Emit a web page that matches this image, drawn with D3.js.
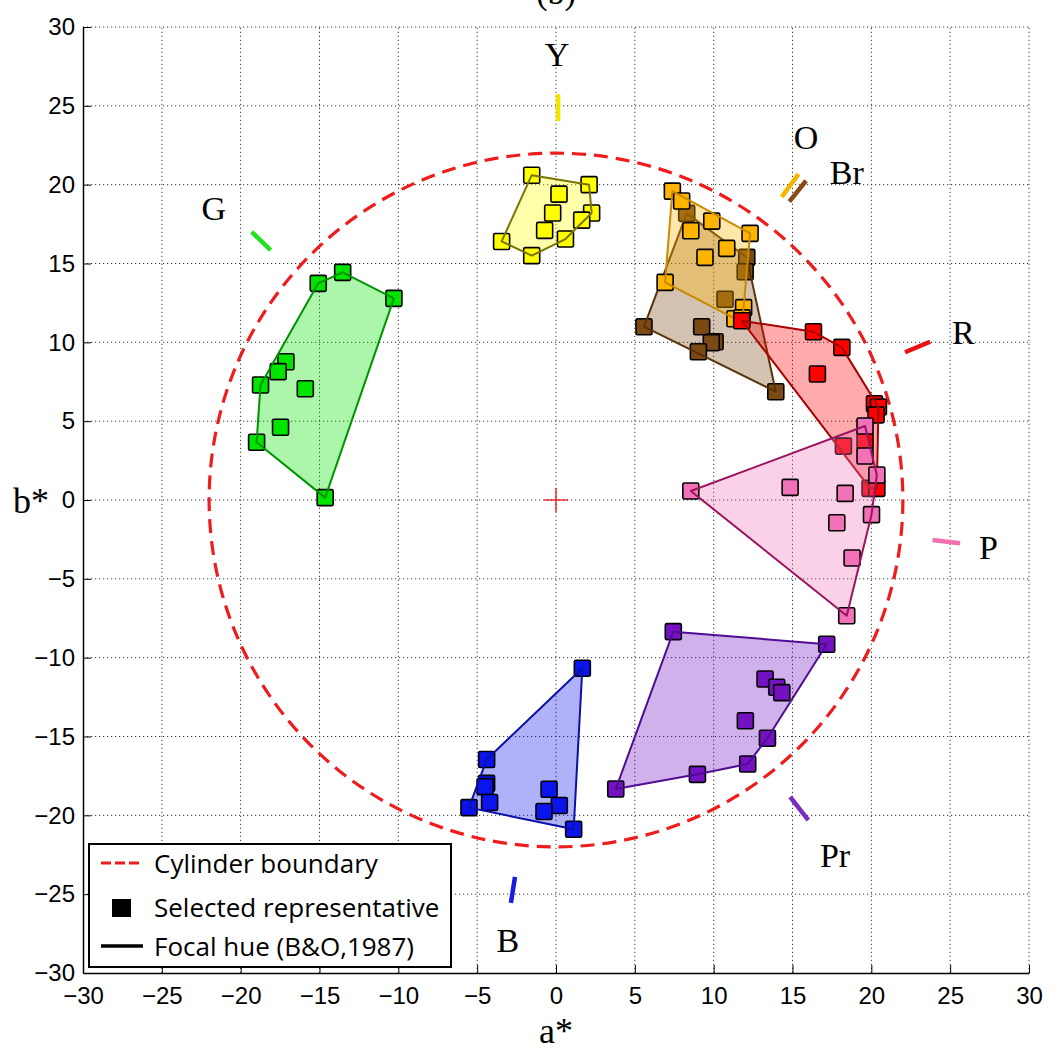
<!DOCTYPE html>
<html><head><meta charset="utf-8">
<script src="https://cdn.jsdelivr.net/npm/d3@7"></script>
<style>body{margin:0;background:#fff;} svg{display:block}</style>
</head><body>
<svg id="chart" width="1057" height="1063"></svg>
<script>
// ---------- data ----------
const tickValues = [-30,-25,-20,-15,-10,-5,0,5,10,15,20,25,30];
const boundaryRadius = 22;

const yellowPts = [[-1.54,20.6],[2.1,20.0],[0.19,19.4],[-0.21,18.2],[2.26,18.2],[1.63,17.75],[-0.72,17.1],[0.6,16.55],[-3.45,16.4],[-1.54,15.5]];
const greenPts = [[-13.53,14.44],[-15.08,13.74],[-10.28,12.79],[-17.13,8.77],[-17.62,8.14],[-18.74,7.29],[-15.9,7.06],[-17.47,4.61],[-18.99,3.66],[-14.64,0.15]];
const brownPts = [[8.29,18.18],[12.1,15.39],[12.0,14.48],[10.72,12.73],[5.58,10.99],[9.24,10.99],[10.09,10.04],[9.85,9.98],[9.03,9.4],[13.94,6.87]];
const orangePts = [[7.38,19.59],[7.97,18.96],[9.88,17.69],[12.31,16.91],[8.55,17.08],[10.83,15.96],[9.45,15.39],[6.92,13.8],[11.9,12.2],[11.35,11.5],[11.8,11.55]];
const redPts = [[11.78,11.37],[16.33,10.67],[18.13,9.68],[16.58,7.99],[20.2,6.1],[20.45,5.9],[20.3,5.4],[18.23,3.42],[19.6,3.76],[19.92,0.74],[20.35,0.74]];
const pinkPts = [[8.55,0.57],[14.85,0.8],[18.34,0.42],[17.81,-1.44],[20.01,-0.93],[18.78,-3.68],[18.44,-7.34],[19.6,4.69],[19.6,2.79],[20.35,1.59]];
const purplePts = [[7.44,-8.35],[17.17,-9.15],[13.26,-11.35],[14.0,-11.88],[14.32,-12.22],[12.01,-14.0],[13.41,-15.11],[12.16,-16.74],[8.97,-17.4],[3.79,-18.33]];
const bluePts = [[1.67,-10.67],[-4.4,-16.46],[-4.4,-17.97],[-4.5,-18.18],[-4.21,-19.19],[-5.52,-19.51],[-0.44,-18.35],[0.21,-19.38],[-0.76,-19.76],[1.12,-20.88]];

const clusterData = [yellowPts, greenPts, brownPts, orangePts, redPts, pinkPts, purplePts, bluePts];
const clusterColors = ["#ffff00","#00e400","#7b4a14","#ffb400","#ff0000","#f272b8","#7412c2","#0c14ee"];
const clusterEdge = ["#7a7400","#009400","#5a3208","#c98a00","#a80000","#9a1460","#500c92","#0a10a8"];

const focalNames = ["Y","O","Br","G","R","P","Pr","B"];
const focalColors = ["#f2e400","#f6b400","#8a4a14","#22e022","#ee1111","#f070b0","#7a2cc0","#1a1ae0"];
const focalSegments = [[0.13,24.03,0.13,25.74],[14.32,19.23,15.38,20.67],[14.8,18.92,15.86,20.25],[-18.1,15.85,-19.3,17.0],[22.14,9.37,23.73,10.04],[23.88,-2.54,25.63,-2.75],[14.85,-18.83,16.0,-20.3],[-2.6,-23.9,-2.86,-25.55]];
const focalLabelPos = [[0.06,28.3],[15.86,23.04],[18.44,20.82],[-21.7,18.5],[25.84,10.67],[27.43,-2.96],[17.7,-22.5],[-3.05,-27.9]];

const legendLabels = ["Cylinder boundary","Selected representative","Focal hue (B&O,1987)"];

// ---------- scales ----------
const svg = d3.select("#chart");
const x = d3.scaleLinear().domain([-30,30]).range([83,1029]);
const y = d3.scaleLinear().domain([-30,30]).range([973,27]);

// title (cut off at the top, as in the reference)
svg.append("text").attr("x", 556).attr("y", 4).attr("text-anchor","middle")
  .attr("font-family","Liberation Serif").attr("font-size",34).text("(b)");

// grid
const grid = svg.append("g").attr("stroke","#333").attr("stroke-width",1).attr("stroke-dasharray","1.2,2.8");
tickValues.filter(t => t > -30).forEach(t => {
  grid.append("line").attr("x1", x(t)).attr("x2", x(t)).attr("y1", y(-30)).attr("y2", y(30));
  grid.append("line").attr("y1", y(t)).attr("y2", y(t)).attr("x1", x(-30)).attr("x2", x(30));
});

// axes
const xAxis = svg.append("g").attr("transform", `translate(0,${y(-30)})`)
  .call(d3.axisBottom(x).tickValues(tickValues).tickSizeInner(-8).tickSizeOuter(0).tickPadding(14));
const yAxis = svg.append("g").attr("transform", `translate(${x(-30)},0)`)
  .call(d3.axisLeft(y).tickValues(tickValues).tickSizeInner(-8).tickSizeOuter(0).tickPadding(8));
[xAxis, yAxis].forEach(g => {
  g.selectAll("path.domain").attr("stroke","#000").attr("stroke-width",1.5);
  g.selectAll(".tick line").attr("stroke","#000").attr("stroke-width",1);
  g.selectAll("text").attr("font-family","Liberation Sans").attr("font-size",24).attr("fill","#000");
});

// axis labels
svg.append("text").attr("x", x(0)).attr("y", 1043).attr("text-anchor","middle")
  .attr("font-family","Liberation Serif").attr("font-size",36).text("a*");
svg.append("text").attr("x", 31).attr("y", y(0)).attr("dy","0.35em").attr("text-anchor","middle")
  .attr("font-family","Liberation Serif").attr("font-size",36).text("b*");

// cylinder boundary
svg.append("circle").attr("cx", x(0)).attr("cy", y(0)).attr("r", x(boundaryRadius) - x(0))
  .attr("fill","none").attr("stroke","#ee1c1c").attr("stroke-width",3.2).attr("stroke-dasharray","14,8");

// origin cross
svg.append("line").attr("x1", x(0)-12).attr("x2", x(0)+12).attr("y1", y(0)).attr("y2", y(0)).attr("stroke","#ee1c1c").attr("stroke-width",1.4);
svg.append("line").attr("x1", x(0)).attr("x2", x(0)).attr("y1", y(0)-12).attr("y2", y(0)+12).attr("stroke","#ee1c1c").attr("stroke-width",1.4);

// clusters
const S = 16;
clusterData.forEach((pts, i) => {
  const hull = d3.polygonHull(pts.map(p => [x(p[0]), y(p[1])]));
  const g = svg.append("g");
  g.append("path").attr("d", "M" + hull.join("L") + "Z")
    .attr("fill", clusterColors[i]).attr("fill-opacity", 0.33).attr("stroke","none");
  g.selectAll("rect").data(pts).join("rect")
    .attr("x", d => x(d[0]) - S/2).attr("y", d => y(d[1]) - S/2)
    .attr("width", S).attr("height", S).attr("rx", 1.5)
    .attr("fill", clusterColors[i]).attr("stroke","#000").attr("stroke-width",1.6);
  g.append("path").attr("d", "M" + hull.join("L") + "Z")
    .attr("fill","none").attr("stroke", clusterEdge[i]).attr("stroke-width",2).attr("stroke-linejoin","round");
});

// focal hues
focalSegments.forEach((s, i) => {
  svg.append("line").attr("x1", x(s[0])).attr("y1", y(s[1])).attr("x2", x(s[2])).attr("y2", y(s[3]))
    .attr("stroke", focalColors[i]).attr("stroke-width", 4.5);
  svg.append("text").attr("x", x(focalLabelPos[i][0])).attr("y", y(focalLabelPos[i][1])).attr("dy","0.35em")
    .attr("text-anchor","middle").attr("font-family","Liberation Serif").attr("font-size",34).text(focalNames[i]);
});

// legend
const lg = svg.append("g");
lg.append("rect").attr("x",89).attr("y",844).attr("width",362).attr("height",123)
  .attr("fill","#fff").attr("stroke","#000").attr("stroke-width",2);
lg.append("line").attr("x1",101).attr("x2",143).attr("y1",863).attr("y2",863)
  .attr("stroke","#ee1c1c").attr("stroke-width",3.2).attr("stroke-dasharray","10,4");
lg.append("rect").attr("x",112).attr("y",899).attr("width",19).attr("height",18).attr("fill","#000");
lg.append("line").attr("x1",101).attr("x2",143).attr("y1",946).attr("y2",946)
  .attr("stroke","#000").attr("stroke-width",3.5);
[873,917,956].forEach((yy, i) => {
  lg.append("text").attr("x",154).attr("y",yy).attr("font-family","Open Sans").attr("font-size",26)
    .attr("fill","#000").text(legendLabels[i]);
});
</script>
</body></html>
